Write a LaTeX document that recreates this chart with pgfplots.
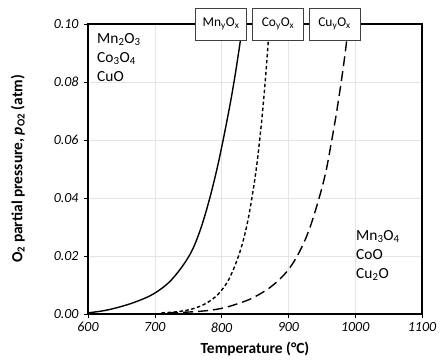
\documentclass[border=0pt]{standalone}
\usepackage{pgfplots}
\pgfplotsset{compat=1.18}
\usepackage{fontspec}
\setmainfont{Carlito}
\begin{document}
\begin{tikzpicture}[x=1bp,y=1bp]
\begin{axis}[
  at={(0,0)}, anchor=south west,
  scale only axis, width=334bp, height=290bp,
  xmin=600, xmax=1100, ymin=0, ymax=0.1,
  xtick={600,700,800,900,1000,1100},
  ytick={0,0.02,0.04,0.06,0.08,0.1},
  /pgf/number format/assume math mode=true,
  xticklabel style={font=\fontsize{14}{16}\selectfont\itshape, /pgf/number format/1000 sep={}, yshift=-1bp},
  yticklabel style={font=\fontsize{14}{16}\selectfont\itshape, /pgf/number format/fixed, /pgf/number format/fixed zerofill, /pgf/number format/precision=2, xshift=-2bp},
  scaled y ticks=false,
  grid=major, major grid style={gray!20, line width=0.6pt},
  axis line style={line width=1.4pt},
  tick align=outside, xtick pos=left, ytick pos=left,
  major tick length=4bp, tick style={black, line width=0.6pt},
  xlabel={\textbf{Temperature (°C)}},
  ylabel={\textbf{O\textsubscript{2} partial pressure, \textit{p}\textsubscript{O2} (atm)}},
  label style={font=\fontsize{15.5}{18}\selectfont},
  xlabel style={at={(rel axis cs:0.5,-0.12)}, anchor=center},
  ylabel style={at={(rel axis cs:-0.21,0.5)}, anchor=center, rotate=0},
  clip=true,
]
\addplot[black, line width=1.4pt, smooth, tension=0.6] coordinates {
(600,0.0004) (625,0.0012) (650,0.0026) (675,0.0045) (700,0.0072) (725,0.0118) (750,0.0195) (765,0.027) (780,0.038) (795,0.052) (810,0.069) (820,0.082) (830,0.097) (833,0.100)
};
\addplot[black, line width=1.4pt, smooth, tension=0.6, dash pattern=on 3.5bp off 2.5bp] coordinates {
(710,0.0004) (730,0.0007) (750,0.0014) (766,0.0025) (780,0.0041) (791,0.006) (800,0.0082) (811,0.012) (823,0.0185) (832,0.025) (840,0.033) (848,0.0438) (853,0.052) (857,0.060) (861,0.069) (865,0.0794) (869,0.0913) (871.5,0.100)
};
\addplot[black, line width=1.4pt, smooth, tension=0.6, dash pattern=on 10bp off 5bp] coordinates {
(720,0.0004) (766,0.0009) (801,0.002) (836,0.0045) (855,0.0066) (871,0.0089) (886,0.0118) (901,0.0156) (916,0.0212) (931,0.029) (946,0.040) (956,0.049) (963.4,0.058) (971,0.068) (978.4,0.079) (985,0.090) (990,0.100)
};
\end{axis}
\begin{scope}[font=\fontsize{15.5}{18}\selectfont]
\node[anchor=north west, align=left, inner sep=0pt] at (9bp,281bp) {Mn\textsubscript{2}O\textsubscript{3}\\[1bp]Co\textsubscript{3}O\textsubscript{4}\\[1bp]CuO};
\node[anchor=north west, align=left, inner sep=0pt] at (268bp,84bp) {Mn\textsubscript{3}O\textsubscript{4}\\[1bp]CoO\\[1bp]Cu\textsubscript{2}O};
\end{scope}
\begin{scope}[every node/.style={draw=black!75, line width=0.8pt, fill=white, minimum width=51bp, minimum height=32bp, inner sep=1bp, font=\fontsize{13.5}{15}\selectfont}]
\node at (133bp,290bp) {Mn\textsubscript{y}O\textsubscript{x}};
\node at (190bp,290bp) {Co\textsubscript{y}O\textsubscript{x}};
\node at (246.5bp,290bp) {Cu\textsubscript{y}O\textsubscript{x}};
\end{scope}
\pgfresetboundingbox
\path (-88bp,-50bp) rectangle (354bp,314bp);
\end{tikzpicture}
\end{document}
